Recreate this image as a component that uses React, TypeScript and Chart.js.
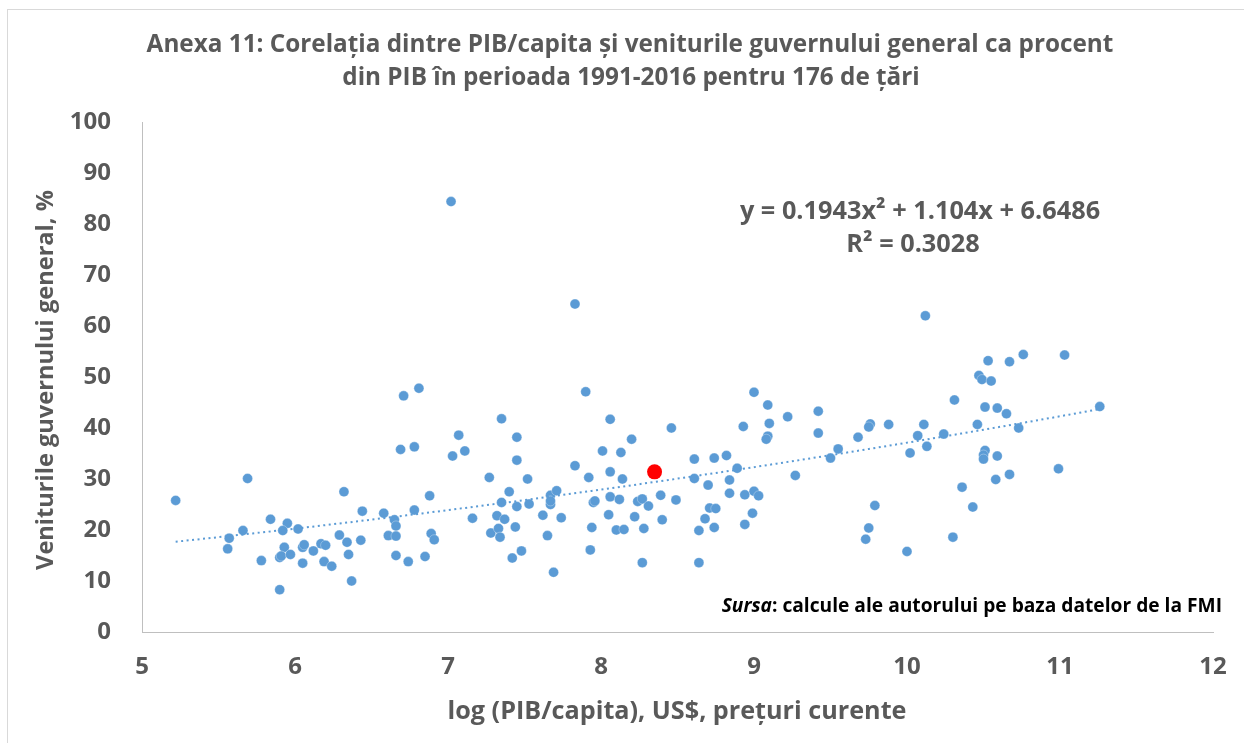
import React, { useEffect, useRef } from "react";
import { Chart, registerables } from "chart.js";

Chart.register(...registerables);

// ---- Data ----
const LOG_GDP = [
  5.22, 5.69, 5.57, 5.56, 5.66, 5.78, 5.84, 5.95, 5.92, 6.02,
  5.93, 5.90, 5.91, 5.97, 5.90, 6.05, 6.05, 6.06, 6.12, 6.17,
  6.20, 6.19, 6.24, 6.29, 6.34, 6.32, 6.35, 6.37, 6.44, 6.43,
  6.58, 6.65, 6.66, 6.61, 6.66, 6.66, 6.74, 6.78, 6.85, 6.88,
  6.89, 6.91, 6.69, 6.78, 7.03, 6.71, 6.81, 7.02, 7.07, 7.11,
  7.90, 9.00, 7.35, 8.06, 7.45, 8.46, 8.93, 8.20, 8.01, 8.13,
  7.45, 7.83, 7.27, 7.52, 7.92, 8.06, 8.14, 8.61, 8.74, 8.82,
  8.89, 8.61, 8.84, 8.70, 8.84, 8.94, 9.00, 9.03, 7.40, 7.35,
  7.45, 7.53, 7.67, 7.71, 7.67, 7.67, 7.16, 7.32, 7.37, 7.44,
  7.28, 7.33, 7.34, 7.62, 7.74, 7.42, 7.48, 7.65, 7.69, 7.95,
  7.96, 7.94, 8.05, 8.06, 8.12, 7.93, 8.10, 8.15, 8.24, 8.27,
  8.31, 8.22, 8.28, 8.27, 8.39, 8.49, 8.40, 8.71, 8.75, 8.68,
  8.64, 8.74, 8.64, 8.99, 8.94, 7.83, 9.09, 9.22, 9.42, 9.10,
  9.09, 9.08, 9.42, 10.31, 10.51, 10.59, 10.65, 10.46, 10.73, 9.76,
  9.75, 9.88, 9.68, 10.11, 10.07, 10.13, 10.24, 10.02, 9.55, 9.50,
  9.27, 10.51, 10.50, 10.50, 10.59, 10.58, 10.67, 10.99, 10.36, 10.43,
  9.79, 9.75, 9.73, 10.00, 10.30, 10.53, 10.67, 10.76, 11.03, 10.47,
  10.49, 10.55, 11.26, 10.12,
];
const REVENUE_PCT = [
  25.8, 30.1, 18.4, 16.3, 19.9, 14.0, 22.1, 21.3, 19.9, 20.2,
  16.6, 14.6, 14.9, 15.2, 8.3, 13.5, 16.6, 17.1, 15.9, 17.3,
  17.0, 13.8, 12.9, 19.0, 17.6, 27.5, 15.2, 10.0, 23.7, 18.0,
  23.3, 22.0, 20.8, 18.9, 18.8, 15.0, 13.8, 23.9, 14.8, 26.7,
  19.3, 18.1, 35.8, 36.3, 34.5, 46.3, 47.8, 84.4, 38.6, 35.5,
  47.1, 47.0, 41.8, 41.7, 38.2, 40.0, 40.3, 37.8, 35.5, 35.2,
  33.7, 32.6, 30.3, 30.0, 30.3, 31.4, 30.0, 33.9, 34.1, 34.6,
  32.1, 30.1, 29.8, 28.8, 27.2, 26.9, 27.6, 26.7, 27.5, 25.4,
  24.6, 25.1, 26.8, 27.7, 25.0, 25.7, 22.3, 22.8, 22.1, 20.6,
  19.4, 20.3, 18.6, 22.9, 22.4, 14.5, 15.9, 18.9, 11.7, 25.4,
  25.7, 20.5, 23.0, 26.5, 26.0, 16.1, 20.0, 20.1, 25.6, 26.1,
  24.7, 22.6, 20.3, 13.6, 26.8, 25.9, 22.0, 24.3, 24.2, 22.2,
  19.9, 20.5, 13.6, 23.3, 21.1, 64.3, 44.5, 42.2, 43.3, 40.9,
  38.4, 37.8, 39.0, 45.5, 44.1, 43.9, 42.8, 40.7, 40.0, 40.8,
  40.2, 40.7, 38.2, 40.7, 38.5, 36.4, 38.8, 35.1, 35.9, 34.1,
  30.7, 35.6, 34.7, 33.9, 34.5, 29.9, 30.9, 32.0, 28.4, 24.5,
  24.8, 20.4, 18.2, 15.8, 18.6, 53.2, 53.0, 54.4, 54.3, 50.3,
  49.5, 49.2, 44.2, 62.0,
];
const HIGHLIGHT_X = [8.35];
const HIGHLIGHT_Y = [31.4];

// Trendline as printed on the chart: y = 0.1943x^2 + 1.104x + 6.6486
const TREND_COEFFS = [0.1943, 1.104, 6.6486];
const TREND_RANGE = [5.22, 11.26];

const X_TICKS = [5, 6, 7, 8, 9, 10, 11, 12];
const Y_TICKS = [0, 10, 20, 30, 40, 50, 60, 70, 80, 90, 100];

const TITLE_LINES = [
  "Anexa 11: Corelația dintre PIB/capita și veniturile guvernului general ca procent",
  "din PIB în perioada 1991-2016 pentru 176 de țări",
];
const X_TITLE = "log (PIB/capita), US$, prețuri curente";
const Y_TITLE = "Veniturile guvernului general, %";
const EQUATION_LINES = ["y = 0.1943x² + 1.104x + 6.6486", "R² = 0.3028"];
const SOURCE_ITALIC = "Sursa";
const SOURCE_REST = ": calcule ale autorului pe baza datelor de la FMI";

// ---- Styles ----
const FONT = "'Open Sans', Lato, sans-serif";
const GREY = "#595959";
const BLUE = "#5B9BD5";
const RED = "#FF0000";
const W = 1244;
const H = 743;

export default function App() {
  const ref = useRef<HTMLCanvasElement | null>(null);

  useEffect(() => {
    document.body.style.margin = "0";
    const canvas = ref.current;
    if (!canvas) return;

    const points = LOG_GDP.map((x, i) => ({ x, y: REVENUE_PCT[i] }));
    const highlight = HIGHLIGHT_X.map((x, i) => ({ x, y: HIGHLIGHT_Y[i] }));
    const trend: { x: number; y: number }[] = [];
    const steps = 60;
    for (let i = 0; i <= steps; i++) {
      const x = TREND_RANGE[0] + ((TREND_RANGE[1] - TREND_RANGE[0]) * i) / steps;
      const y = TREND_COEFFS[0] * x * x + TREND_COEFFS[1] * x + TREND_COEFFS[2];
      trend.push({ x, y });
    }

    const fitText = (ctx: CanvasRenderingContext2D, text: string, style: string, size: number, target: number) => {
      ctx.font = `${style} ${size}px ${FONT}`;
      const w = ctx.measureText(text).width;
      const s = Math.max(size * 0.85, Math.min(size * 1.15, (size * target) / w));
      ctx.font = `${style} ${s.toFixed(1)}px ${FONT}`;
    };

    const textPlugin = {
      id: "texts",
      afterDraw(chart: any) {
        const ctx: CanvasRenderingContext2D = chart.ctx;
        ctx.save();
        // frame
        ctx.strokeStyle = "#D9D9D9";
        ctx.lineWidth = 1;
        ctx.strokeRect(7.5, 9.5, 1400, 900);

        ctx.fillStyle = GREY;
        ctx.textAlign = "center";
        ctx.textBaseline = "middle";
        fitText(ctx, TITLE_LINES[0], "bold", 22, 965);
        ctx.fillText(TITLE_LINES[0], 630, 45);
        ctx.fillText(TITLE_LINES[1], 631, 78);

        // equation
        fitText(ctx, EQUATION_LINES[0], "bold", 22, 366);
        ctx.fillText(EQUATION_LINES[0], 920, 212);
        ctx.fillText(EQUATION_LINES[1], 913, 245);

        // axis titles
        fitText(ctx, X_TITLE, "bold", 23, 459);
        ctx.fillText(X_TITLE, 677, 712);
        ctx.save();
        ctx.translate(46, 380);
        ctx.rotate(-Math.PI / 2);
        fitText(ctx, Y_TITLE, "bold", 23, 380);
        ctx.fillText(Y_TITLE, 0, 0);
        ctx.restore();

        // source
        ctx.fillStyle = "#000000";
        ctx.textAlign = "left";
        ctx.font = `italic bold 17px ${FONT}`;
        const w1 = ctx.measureText(SOURCE_ITALIC).width;
        ctx.font = `bold 17px ${FONT}`;
        const w2 = ctx.measureText(SOURCE_REST).width;
        const scale = Math.min(1.15, 500 / (w1 + w2));
        const size = (17 * scale).toFixed(1);
        ctx.font = `italic bold ${size}px ${FONT}`;
        const v1 = ctx.measureText(SOURCE_ITALIC).width;
        ctx.font = `bold ${size}px ${FONT}`;
        const v2 = ctx.measureText(SOURCE_REST).width;
        const start = 1222 - v1 - v2;
        ctx.font = `italic bold ${size}px ${FONT}`;
        ctx.fillText(SOURCE_ITALIC, start, 607);
        ctx.font = `bold ${size}px ${FONT}`;
        ctx.fillText(SOURCE_REST, start + v1, 607);
        ctx.restore();
      },
    };

    const chart = new Chart(canvas, {
      type: "scatter",
      data: {
        datasets: [
          {
            type: "scatter",
            label: "highlight",
            data: highlight,
            backgroundColor: RED,
            borderColor: RED,
            borderWidth: 0,
            pointRadius: 7.5,
            order: -1,
          },
          {
            type: "line",
            label: "trend",
            data: trend,
            borderColor: BLUE,
            borderWidth: 2,
            borderDash: [2, 3.5],
            pointRadius: 0,
            fill: false,
            tension: 0,
            order: 0,
          } as any,
          {
            type: "scatter",
            label: "countries",
            data: points,
            backgroundColor: BLUE,
            borderColor: "rgba(255,255,255,0.6)",
            borderWidth: 0.5,
            pointRadius: 5,
            order: 1,
          },
        ],
      },
      options: {
        responsive: false,
        animation: false,
        devicePixelRatio: 1,
        layout: { padding: { top: 122, right: 31, left: 0, bottom: 0 } },
        plugins: {
          legend: { display: false },
          title: { display: false },
          tooltip: { enabled: false },
        },
        scales: {
          x: {
            type: "linear",
            min: X_TICKS[0],
            max: X_TICKS[X_TICKS.length - 1],
            afterBuildTicks: (scale: any) => {
              scale.ticks = X_TICKS.map((v) => ({ value: v }));
            },
            afterFit: (scale: any) => {
              scale.height = H - 632;
            },
            grid: { display: false },
            border: { display: true, color: "#BFBFBF", width: 1 },
            ticks: {
              color: GREY,
              font: { family: FONT, size: 24, weight: "bold" },
              padding: 13,
              maxRotation: 0,
              callback: (v: any) => String(v),
            },
          },
          y: {
            type: "linear",
            min: Y_TICKS[0],
            max: Y_TICKS[Y_TICKS.length - 1],
            afterBuildTicks: (scale: any) => {
              scale.ticks = Y_TICKS.map((v) => ({ value: v }));
            },
            afterFit: (scale: any) => {
              scale.width = 142;
            },
            grid: { display: false },
            border: { display: true, color: "#BFBFBF", width: 1 },
            ticks: {
              color: GREY,
              font: { family: FONT, size: 24, weight: "bold" },
              padding: 23,
              callback: (v: any) => String(v),
            },
          },
        },
      },
      plugins: [textPlugin],
    } as any);

    return () => chart.destroy();
  }, []);

  return (
    <div style={{ width: W, height: H, background: "#FFFFFF" }}>
      <canvas ref={ref} width={W} height={H} style={{ display: "block", width: W, height: H }} />
    </div>
  );
}
